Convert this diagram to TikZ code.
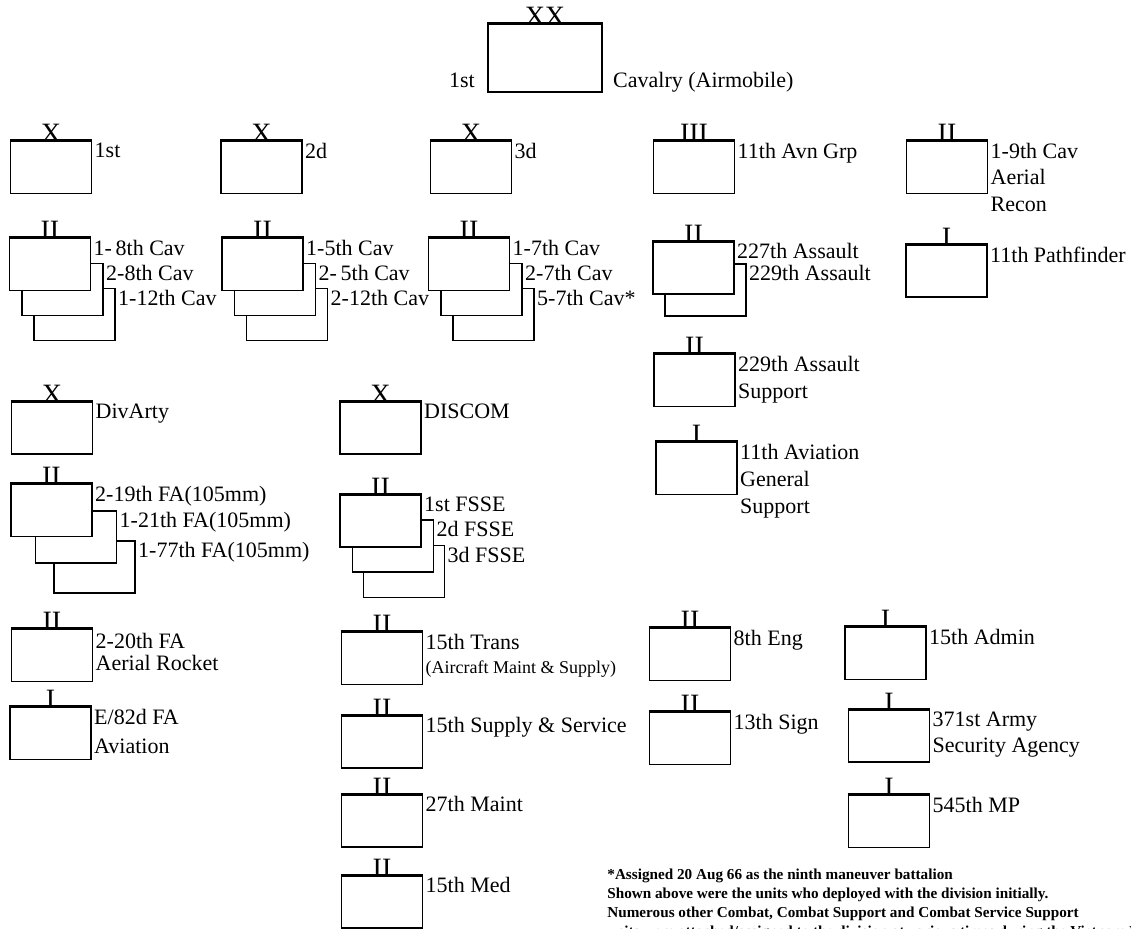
\documentclass[tikz,border=0pt]{standalone}
\usepackage{fontspec}
\setmainfont{Liberation Serif}
\usetikzlibrary{positioning}

\tikzset{
  unit/.style={draw,fill=white,rectangle,inner sep=0pt,minimum width=40.5pt,minimum height=26pt,line width=0.8pt},
  echelon/.style={anchor=base,inner sep=0pt,yshift=-1pt,font=\fontsize{14}{14}\selectfont},
  lbl/.style={anchor=north west,inner sep=1pt,align=left,font=\fontsize{11}{13.5}\selectfont},
  topline/.style={line width=1.4pt},
  note/.style={anchor=north west,inner sep=0pt,align=left,font=\bfseries\fontsize{7.6}{9.4}\selectfont}
}

\begin{document}
\begin{tikzpicture}[x=0.5pt,y=-0.5pt]
\useasboundingbox (0,0) rectangle (1131,928);

% division
\node[unit,minimum width=57pt,minimum height=34pt] (div) at (545,58) {};
\node[echelon] (divE) at (div.north) {XX};
\node[lbl,anchor=base east] (divL) at ([xshift=-5pt,yshift=2.5pt]div.south west) {1st};
\node[lbl,anchor=base west] (divR) at ([xshift=4pt,yshift=2.5pt]div.south east) {Cavalry (Airmobile)};

% brigades and groups
\node[unit] (bde1) at (51,167.5) {};
\node[echelon] (bde1E) at (bde1.north) {X};
\node[lbl] (bde1L) at (bde1.north east) {1st};
\node[unit] (bde2) at (261.5,167.5) {};
\node[echelon] (bde2E) at (bde2.north) {X};
\node[lbl] (bde2L) at (bde2.north east) {2d};
\node[unit] (bde3) at (471,167.5) {};
\node[echelon] (bde3E) at (bde3.north) {X};
\node[lbl] (bde3L) at (bde3.north east) {3d};
\node[unit] (avn) at (694,167.5) {};
\node[echelon] (avnE) at (avn.north) {III};
\node[lbl] (avnL) at (avn.north east) {11th Avn Grp};
\node[unit] (recon) at (947,167.5) {};
\node[echelon] (reconE) at (recon.north) {II};
\node[lbl,font=\fontsize{11}{13.2}\selectfont] (reconL) at (recon.north east) {1-9th Cav\\Aerial\\Recon};

% cavalry battalions, 1st bde
\node[unit] (c1c) at (74.5,314.5) {};
\node[unit] (c1b) at (62.5,289.5) {};
\node[unit] (c1a) at (50,264.5) {};
\node[echelon] (c1E) at (c1a.north) {II};
\node[lbl] (c1aL) at (c1a.north east) {1-\,8th Cav};
\node[lbl] (c1bL) at (c1b.north east) {2-8th Cav};
\node[lbl] (c1cL) at (c1c.north east) {1-12th Cav};

% 2d bde
\node[unit] (c2c) at (287,314.5) {};
\node[unit] (c2b) at (275,289.5) {};
\node[unit] (c2a) at (262.5,264.5) {};
\node[echelon] (c2E) at (c2a.north) {II};
\node[lbl] (c2aL) at (c2a.north east) {1-5th Cav};
\node[lbl] (c2bL) at (c2b.north east) {2-\,5th Cav};
\node[lbl] (c2cL) at (c2c.north east) {2-12th Cav};

% 3d bde
\node[unit] (c3c) at (493.5,314.5) {};
\node[unit] (c3b) at (481.5,289.5) {};
\node[unit] (c3a) at (469,264.5) {};
\node[echelon] (c3E) at (c3a.north) {II};
\node[lbl] (c3aL) at (c3a.north east) {1-7th Cav};
\node[lbl] (c3bL) at (c3b.north east) {2-7th Cav};
\node[lbl] (c3cL) at (c3c.north east) {5-7th Cav*};

% aviation group
\node[unit] (as2) at (705.5,290) {};
\node[unit] (as1) at (693.5,268) {};
\node[echelon] (asE) at (as1.north) {II};
\node[lbl] (as1L) at (as1.north east) {227th Assault};
\node[lbl] (as2L) at (as2.north east) {229th Assault};
\node[unit] (pf) at (946.5,271) {};
\node[echelon] (pfE) at (pf.north) {I};
\node[lbl] (pfL) at (pf.north east) {11th Pathfinder};
\node[unit] (aspt) at (694.5,380.5) {};
\node[echelon] (asptE) at (aspt.north) {II};
\node[lbl] (asptL) at (aspt.north east) {229th Assault\\Support};
\node[unit] (gs) at (696.5,468.5) {};
\node[echelon] (gsE) at (gs.north) {I};
\node[lbl] (gsL) at (gs.north east) {11th Aviation\\General\\Support};

% division artillery
\node[unit] (arty) at (52,428) {};
\node[echelon] (artyE) at (arty.north) {X};
\node[lbl] (artyL) at (arty.north east) {DivArty};
\node[unit] (fa3) at (94.5,567) {};
\node[unit] (fa2) at (76,537) {};
\node[unit] (fa1) at (51.5,510.5) {};
\node[echelon] (faE) at (fa1.north) {II};
\node[lbl] (fa1L) at (fa1.north east) {2-19th FA(105mm)};
\node[lbl] (fa2L) at (fa2.north east) {1-21th FA(105mm)};
\node[lbl] (fa3L) at (fa3.north east) {1-77th FA(105mm)};
\node[unit] (rkt) at (52,655.5) {};
\node[echelon] (rktE) at (rkt.north) {II};
\node[lbl,font=\fontsize{11}{11}\selectfont] (rktL) at ([yshift=-1pt]rkt.north east) {2-20th FA\\Aerial Rocket};
\node[unit] (e82) at (50.5,733.5) {};
\node[echelon] (e82E) at (e82.north) {I};
\node[lbl,font=\fontsize{11}{14.5}\selectfont] (e82L) at (e82.north east) {E/82d FA\\Aviation};

% support command
\node[unit] (discom) at (380.5,428) {};
\node[echelon] (discomE) at (discom.north) {X};
\node[lbl] (discomL) at (discom.north east) {DISCOM};
\node[unit] (fs3) at (404,571.5) {};
\node[unit] (fs2) at (393,546) {};
\node[unit] (fs1) at (380.5,521) {};
\node[echelon] (fsE) at (fs1.north) {II};
\node[lbl] (fs1L) at (fs1.north east) {1st FSSE};
\node[lbl] (fs2L) at (fs2.north east) {2d FSSE};
\node[lbl] (fs3L) at (fs3.north east) {3d FSSE};
\node[unit] (trans) at (382,658.5) {};
\node[echelon] (transE) at (trans.north) {II};
\node[lbl,font=\fontsize{11}{12}\selectfont] (transL) at (trans.north east) {15th Trans\\{\fontsize{9}{10}\selectfont (Aircraft Maint \& Supply)}};
\node[unit] (sns) at (382,742) {};
\node[echelon] (snsE) at (sns.north) {II};
\node[lbl] (snsL) at (sns.north east) {15th Supply \& Service};
\node[unit] (maint) at (382,821) {};
\node[echelon] (maintE) at (maint.north) {II};
\node[lbl] (maintL) at (maint.north east) {27th Maint};
\node[unit] (med) at (382,902) {};
\node[echelon] (medE) at (med.north) {II};
\node[lbl] (medL) at (med.north east) {15th Med};

% divisional troops
\node[unit] (eng) at (690,654.5) {};
\node[echelon] (engE) at (eng.north) {II};
\node[lbl] (engL) at (eng.north east) {8th Eng};
\node[unit] (sig) at (690,738.5) {};
\node[echelon] (sigE) at (sig.north) {II};
\node[lbl] (sigL) at (sig.north east) {13th Sign};
\node[unit] (adm) at (885.5,653.5) {};
\node[echelon] (admE) at (adm.north) {I};
\node[lbl] (admL) at (adm.north east) {15th Admin};
\node[unit] (asa) at (889,736) {};
\node[echelon] (asaE) at (asa.north) {I};
\node[lbl,font=\fontsize{11}{13}\selectfont] (asaL) at (asa.north east) {371st Army\\Security Agency};
\node[unit] (mp) at (889,821.5) {};
\node[echelon] (mpE) at (mp.north) {I};
\node[lbl] (mpL) at (mp.north east) {545th MP};

% heavy top edges
\foreach \b in {div,bde1,bde2,bde3,avn,recon,c1a,c2a,c3a,as1,pf,aspt,gs,arty,fa1,rkt,e82,discom,fs1,trans,sns,maint,med,eng,sig,adm,asa,mp}
  \draw[topline] (\b.north west) -- (\b.north east);

% footnote
\node[note] (fn) at (607,869) {*Assigned 20 Aug 66 as the ninth maneuver battalion\\
Shown above were the units who deployed with the division initially.\\
Numerous other Combat, Combat Support and Combat Service Support\\
units were attached/assigned to the division at various times during the Vietnam War};
\end{tikzpicture}
\end{document}
